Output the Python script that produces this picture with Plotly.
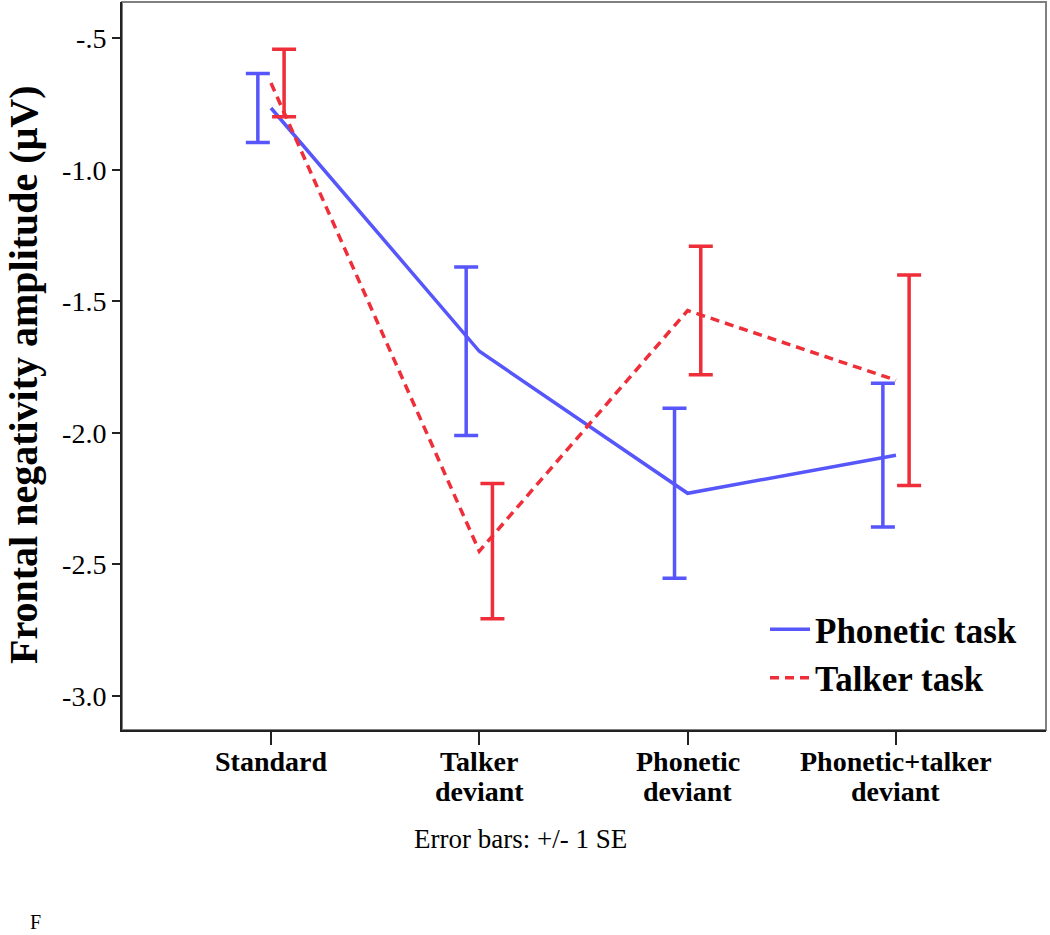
import plotly.graph_objects as go

categories = ["Standard", "Talker<br>deviant", "Phonetic<br>deviant", "Phonetic+talker<br>deviant"]
phonetic_mean = [-0.765, -1.69, -2.23, -2.085]
phonetic_se = [0.131, 0.32, 0.323, 0.273]
talker_mean = [-0.67, -2.45, -1.535, -1.80]
talker_se = [0.128, 0.257, 0.244, 0.40]
y_tickvals = [-0.5, -1.0, -1.5, -2.0, -2.5, -3.0]
y_ticktext = ["-.5", "-1.0", "-1.5", "-2.0", "-2.5", "-3.0"]

BLUE = "#5656fb"
RED = "#ee2e38"
DODGE = 0.063
serif = "Liberation Serif, Times New Roman, serif"

L, R, T, B = 122, 4, 2, 205
W, H = 1050, 935
PW, PH = W - L - R, H - T - B

def px_x(p):
    return (p - L) / PW

def px_y(p):
    return (H - B - p) / PH

xs = list(range(len(categories)))

fig = go.Figure()
fig.add_trace(go.Scatter(
    x=xs, y=phonetic_mean, mode="lines", name="Phonetic task",
    line=dict(color=BLUE, width=3.5)))
fig.add_trace(go.Scatter(
    x=xs, y=talker_mean, mode="lines", name="Talker task",
    line=dict(color=RED, width=3.5, dash="9px,6px")))
fig.add_trace(go.Scatter(
    x=[i - DODGE for i in xs], y=phonetic_mean, mode="markers", showlegend=False,
    marker=dict(size=1, color="rgba(0,0,0,0)"),
    error_y=dict(type="data", array=phonetic_se, color=BLUE, thickness=3.5, width=12)))
fig.add_trace(go.Scatter(
    x=[i + DODGE for i in xs], y=talker_mean, mode="markers", showlegend=False,
    marker=dict(size=1, color="rgba(0,0,0,0)"),
    error_y=dict(type="data", array=talker_se, color=RED, thickness=3.5, width=12)))

annotations = [
    dict(text="<b>Frontal negativity amplitude (μV)</b>", xref="paper", yref="paper",
         x=px_x(24), y=px_y(375), xanchor="center", yanchor="middle", textangle=-90,
         showarrow=False, font=dict(size=40, family=serif)),
    dict(text="Error bars: +/- 1 SE", xref="paper", yref="paper", x=px_x(520),
         y=px_y(839), xanchor="center", yanchor="middle", showarrow=False,
         font=dict(size=27, family=serif)),
    dict(text="F", xref="paper", yref="paper", x=px_x(35),
         y=px_y(935), xanchor="center", yanchor="bottom", showarrow=False,
         font=dict(size=20, family=serif)),
]
line_y = [761, 791]
for i, cat in enumerate(categories):
    for j, part in enumerate(cat.split("<br>")):
        annotations.append(dict(
            text="<b>" + part + "</b>", xref="x", yref="paper", x=i, y=px_y(line_y[j]),
            xanchor="center", yanchor="middle", showarrow=False,
            font=dict(size=28, family=serif)))

fig.update_layout(
    width=W, height=H,
    margin=dict(l=L, r=R, t=T, b=B),
    paper_bgcolor="white", plot_bgcolor="white",
    font=dict(family=serif, color="black"),
    showlegend=True,
    legend=dict(x=px_x(765), y=px_y(600), xanchor="left", yanchor="top",
                bgcolor="rgba(0,0,0,0)", font=dict(size=35, family=serif, weight="bold"),
                tracegroupgap=0, itemwidth=40),
    xaxis=dict(range=[-0.715, 3.72], tickvals=xs, showticklabels=False,
               automargin=False,
               showgrid=False, zeroline=False, showline=True, linecolor="#222", linewidth=2,
               ticks="outside", ticklen=13, tickwidth=2, tickcolor="#222"),
    yaxis=dict(range=[-3.13, -0.362], tickvals=y_tickvals, ticktext=y_ticktext,
               automargin=False,
               showgrid=False, zeroline=False, showline=True, linecolor="#222", linewidth=2,
               ticks="outside", ticklen=8, tickwidth=2, tickcolor="#222",
               tickfont=dict(size=28, family=serif)),
    shapes=[dict(type="rect", xref="paper", yref="paper", x0=0, x1=1, y0=0, y1=1,
                 line=dict(color="#808080", width=2), layer="below")],
    annotations=annotations,
)

fig.write_html("out.html", config={"displayModeBar": False},
               post_script="document.body.style.margin='0';document.body.style.overflow='hidden';")
